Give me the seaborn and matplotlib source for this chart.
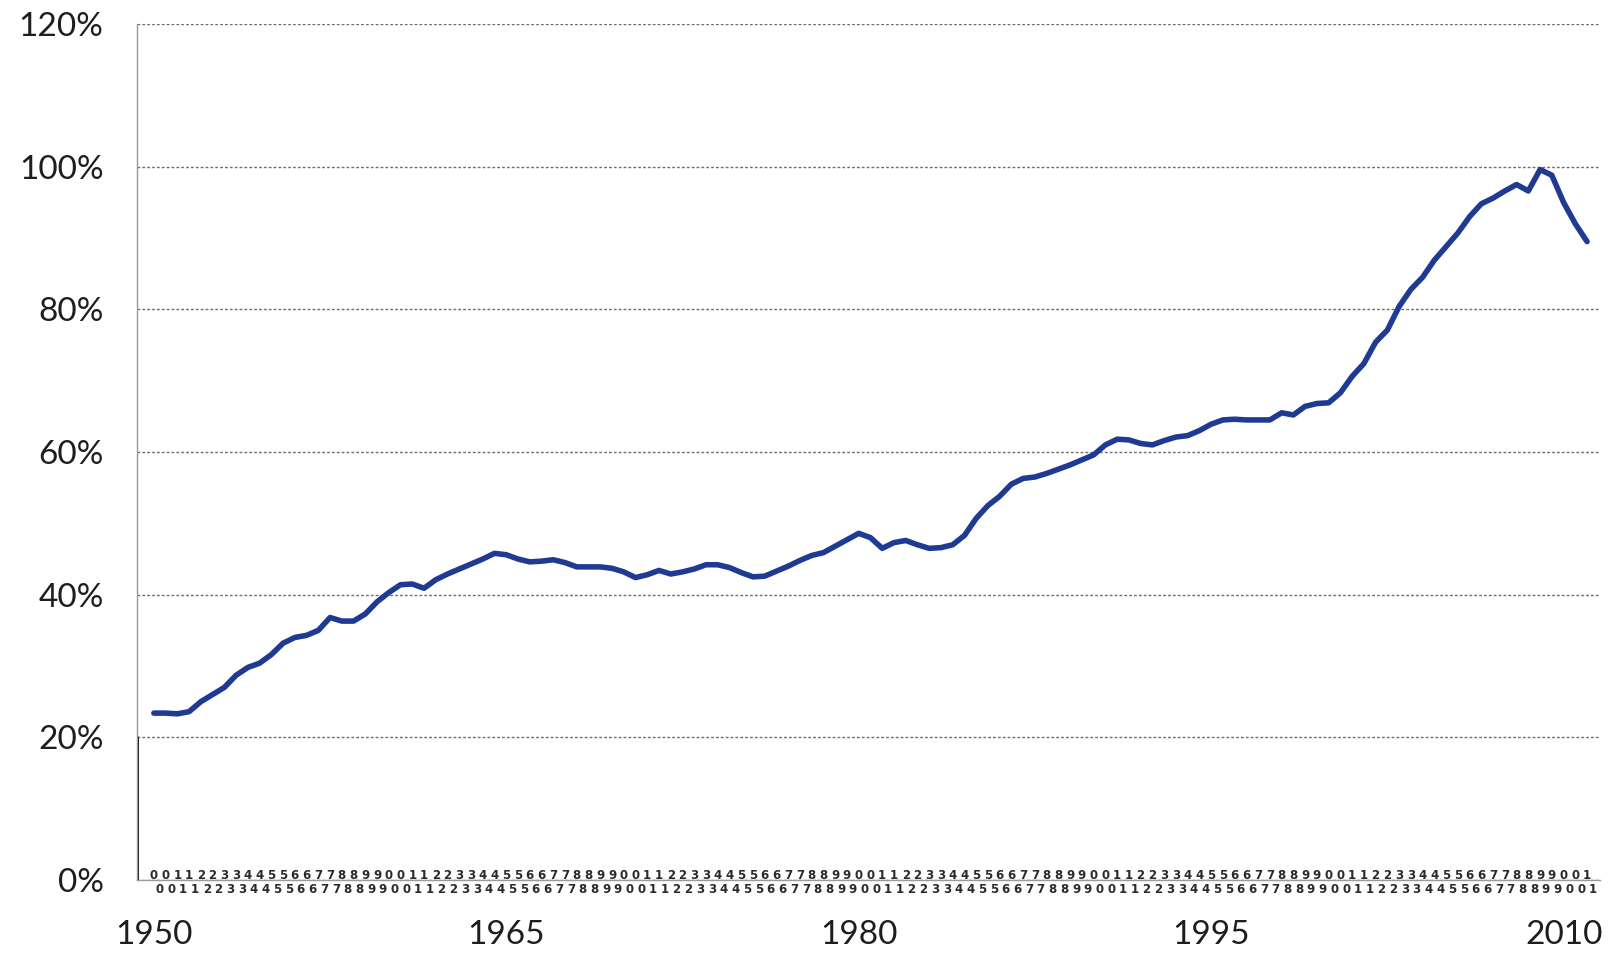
import numpy as np
import pandas as pd
import matplotlib
matplotlib.use("Agg")
import matplotlib.pyplot as plt
import seaborn as sns
from matplotlib.ticker import FixedLocator, FixedFormatter

# ---- data (semi-annual) ----
years = np.arange(1950.0, 2011.01, 0.5)
ratio = [
    23.4, 23.4, 23.3, 23.6, 25.0, 26.0, 27.0, 28.7, 29.8, 30.4,
    31.6, 33.2, 34.0, 34.3, 35.0, 36.8, 36.3, 36.3, 37.3, 39.0,
    40.3, 41.4, 41.5, 40.9, 42.1, 42.9, 43.6, 44.3, 45.0, 45.8,
    45.6, 45.0, 44.6, 44.7, 44.9, 44.5, 43.9, 43.9, 43.9, 43.7,
    43.2, 42.4, 42.8, 43.4, 42.9, 43.2, 43.6, 44.2, 44.2, 43.8,
    43.1, 42.5, 42.6, 43.3, 44.0, 44.8, 45.5, 45.9, 46.8, 47.7,
    48.6, 48.0, 46.5, 47.3, 47.6, 47.0, 46.5, 46.6, 47.0, 48.3,
    50.7, 52.5, 53.8, 55.5, 56.3, 56.5, 57.0, 57.6, 58.2, 58.9,
    59.6, 61.0, 61.8, 61.7, 61.2, 61.0, 61.6, 62.1, 62.3, 63.0,
    63.9, 64.5, 64.6, 64.5, 64.5, 64.5, 65.5, 65.2, 66.4, 66.8,
    66.9, 68.3, 70.6, 72.4, 75.4, 77.1, 80.4, 82.8, 84.5, 86.9,
    88.8, 90.7, 93.0, 94.8, 95.6, 96.6, 97.5, 96.6, 99.6, 98.8,
    95.0, 92.0, 89.5,
]
year_ticks = [1950, 1965, 1980, 1995, 2010]
year_labels = ["1950", "1965", "1980", "1995", "2010"]
pct_ticks = [0, 20, 40, 60, 80, 100, 120]
pct_labels = ["0%", "20%", "40%", "60%", "80%", "100%", "120%"]
# crowded quarterly category labels of the original (an illegible band)
quarter_pos = np.arange(1950.0, 2011.3, 0.25)
quarter_labels = [str(int(q) % 10) for q in quarter_pos]

# ---- style ----
sns.set_theme(style="white")
plt.rcParams["font.family"] = ["Lato", "DejaVu Sans"]

fig = plt.figure(figsize=(16.09, 9.58), dpi=100)
ax = fig.add_axes([0.0851, 0.0814, 0.9093, 0.8935])

df = pd.DataFrame({"year": years, "ratio": ratio})
sns.lineplot(data=df, x="year", y="ratio", color="#1f3a93", linewidth=4.0, ax=ax)

XMIN, XMAX = 1949.28, 2011.55
ax.set_xlim(XMIN, XMAX)
ax.set_ylim(0, 120)

ax.yaxis.set_major_locator(FixedLocator(pct_ticks))
ax.yaxis.set_major_formatter(FixedFormatter(pct_labels))
ax.xaxis.set_major_locator(FixedLocator(year_ticks))
ax.xaxis.set_major_formatter(FixedFormatter(year_labels))

ax.tick_params(axis="y", which="major", length=0, pad=24, labelsize=24, labelcolor="#1e1e1e")
ax.tick_params(axis="x", which="major", length=0, pad=29, labelsize=24, labelcolor="#1e1e1e")
ax.set_xlabel("")
ax.set_ylabel("")

ax.yaxis.grid(True, color="#6e6e6e", linewidth=1.0, linestyle=(0, (2, 1.5)))
ax.xaxis.grid(False)

for s in ["top", "right"]:
    ax.spines[s].set_visible(False)
ax.spines["left"].set_color("#9a9a9a")
ax.spines["left"].set_linewidth(1.0)
ax.spines["bottom"].set_color("#9a9a9a")
ax.spines["bottom"].set_linewidth(1.0)
ax.axvline(XMIN, ymin=0, ymax=20 / 120, color="#111111", linewidth=2.2)

# dense quarterly label band along the 0% line, staggered in two rows
trans = ax.get_xaxis_transform()
for i, (q, lab) in enumerate(zip(quarter_pos, quarter_labels)):
    yrow = 0.0058 if i % 2 == 0 else -0.0105
    ax.text(q, yrow, lab, transform=trans, ha="center", va="center",
            fontsize=8.5, fontweight="bold", color="#2a2a2a",
            family=["DejaVu Sans"], clip_on=False)

fig.savefig("out.png", dpi=100, facecolor="white")
